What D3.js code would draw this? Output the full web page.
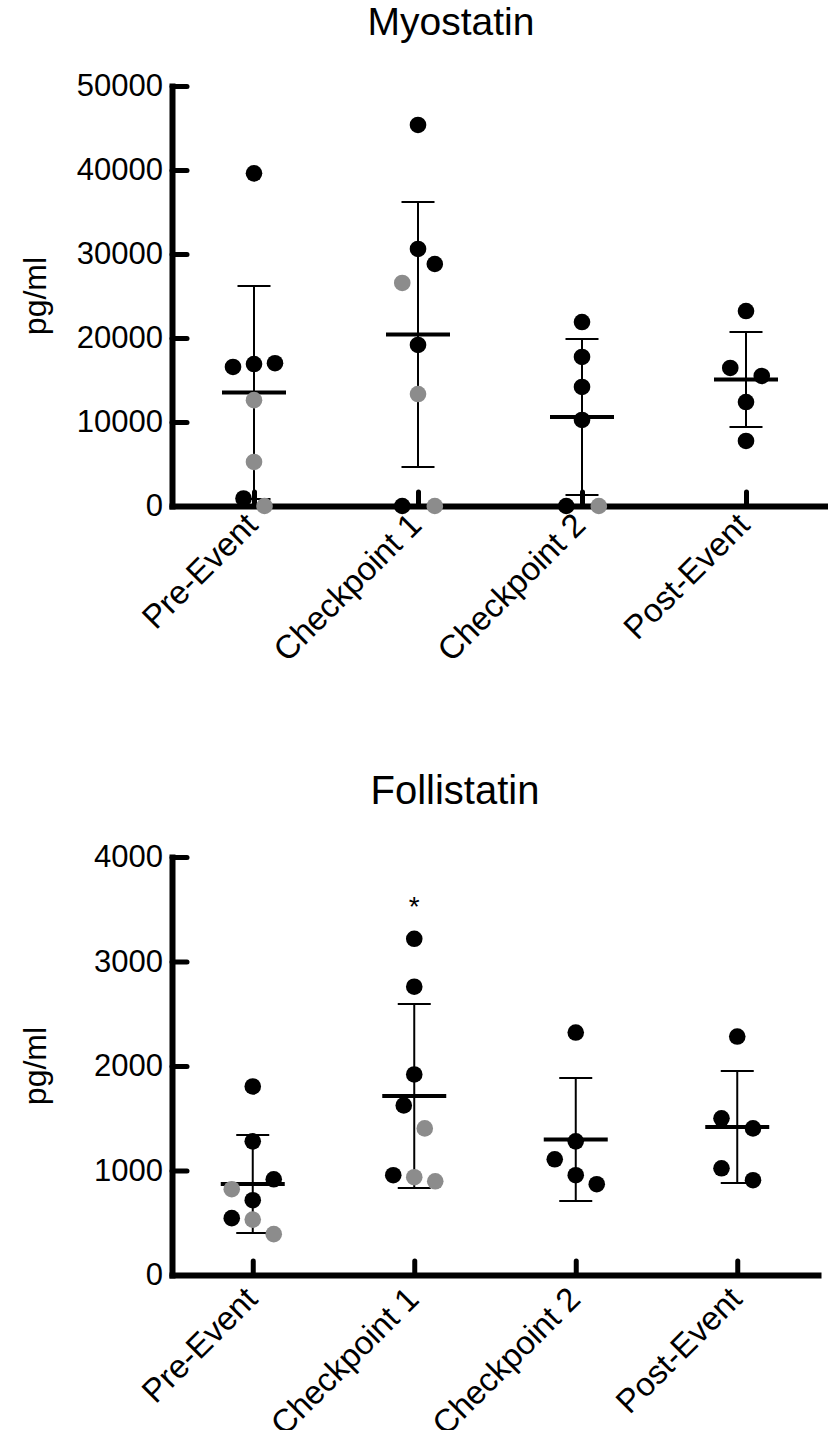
<!DOCTYPE html>
<html>
<head>
<meta charset="utf-8">
<script src="https://cdn.jsdelivr.net/npm/d3@7"></script>
<style>
  html, body { margin: 0; padding: 0; background: #fff; }
  svg { display: block; font-family: "Liberation Sans", Arial, Helvetica, sans-serif; }
</style>
</head>
<body>
<svg id="chart" width="828" height="1430"></svg>
<script>
// ---------- DATA ----------
const categories = ["Pre-Event", "Checkpoint 1", "Checkpoint 2", "Post-Event"];

// Myostatin (pg/ml): individual values per category, group colour code ("b" black, "g" grey)
const myoPre   = [39600, 16550, 16900, 17000, 12600, 5240, 900, 0];
const myoPreG  = ["b", "b", "b", "b", "g", "g", "b", "g"];
const myoCp1   = [45360, 30600, 28810, 26550, 19170, 13330, 0, 0];
const myoCp1G  = ["b", "b", "b", "g", "b", "g", "b", "g"];
const myoCp2   = [21900, 17740, 14170, 10240, 0, 0];
const myoCp2G  = ["b", "b", "b", "b", "b", "g"];
const myoPost  = [23210, 16430, 15480, 12380, 7740];
const myoPostG = ["b", "b", "b", "b", "b"];
const myoMean  = [13510, 20420, 10600, 15060];
const myoSD    = [12680, 15770, 9290, 5650];
const myoTicks = [0, 10000, 20000, 30000, 40000, 50000];

// Follistatin (pg/ml)
const folPre   = [1804, 1279, 916, 821, 716, 544, 530, 391];
const folPreG  = ["b", "b", "b", "g", "b", "b", "g", "g"];
const folCp1   = [3217, 2759, 1919, 1623, 1403, 955, 936, 897];
const folCp1G  = ["b", "b", "b", "b", "g", "b", "g", "g"];
const folCp2   = [2320, 1279, 1107, 955, 869];
const folCp2G  = ["b", "b", "b", "b", "b"];
const folPost  = [2282, 1499, 1403, 1021, 907];
const folPostG = ["b", "b", "b", "b", "b"];
const folMean  = [871, 1713, 1297, 1416];
const folSD    = [469, 880, 589, 536];
const folTicks = [0, 1000, 2000, 3000, 4000];
const folSignif = ["", "*", "", ""];

// Column-scatter spread (in dot-slot units) used to place overlapping points side by side
const myoSpread = [
  [0, -1, 0, 1, 0, 0, -0.5, 0.5],
  [0, 0, 0.8, -0.75, 0, 0, -0.75, 0.8],
  [0, 0, 0, 0, -0.75, 0.8],
  [0, -0.75, 0.75, 0, 0]
];
const folSpread = [
  [0, 0, 1, -1, 0, -1, 0, 1],
  [0, 0, 0, -0.5, 0.5, -1, 0, 1],
  [0, 0, -1, 0, 1],
  [0, -0.75, 0.75, -0.75, 0.75]
];

// ---------- DRAW ----------
const svg = d3.select("#chart");
const colours = { b: "#000000", g: "#8c8c8c" };

function panel(cfg) {
  const g = svg.append("g");
  const x = d3.scalePoint().domain(categories).range([172, cfg.xEnd]).padding(0.5);
  const y = d3.scaleLinear().domain([0, cfg.yMax]).range([cfg.y0, cfg.yTop]);
  const slot = d3.scaleLinear().domain([0, 1]).range([0, 21]);

  // title
  g.append("text")
    .attr("x", cfg.titleX).attr("y", cfg.titleY)
    .attr("text-anchor", "middle")
    .style("font-size", cfg.titleSize + "px")
    .text(cfg.title);

  // y label
  g.append("text")
    .attr("transform", `translate(46,${(cfg.y0 + cfg.yTop) / 2}) rotate(-90)`)
    .attr("text-anchor", "middle")
    .style("font-size", "32px")
    .text("pg/ml");

  // y axis
  const ya = g.append("g")
    .attr("transform", "translate(172,0)")
    .call(d3.axisLeft(y).tickValues(cfg.ticks).tickFormat(d3.format("d"))
      .tickSizeInner(-15).tickSizeOuter(0).tickPadding(9));
  ya.attr("font-family", null).attr("font-size", null);
  ya.select(".domain").attr("stroke", "#000").attr("stroke-width", 6).attr("stroke-linecap", "square");
  ya.selectAll(".tick line").attr("stroke", "#000").attr("stroke-width", 5).attr("stroke-linecap", "round");
  ya.selectAll(".tick text").style("font-size", "31px").attr("fill", "#000");

  // x axis
  const xa = g.append("g")
    .attr("transform", `translate(0,${cfg.y0})`)
    .call(d3.axisBottom(x).tickSizeInner(-14).tickSizeOuter(0));
  xa.attr("font-family", null).attr("font-size", null);
  xa.select(".domain").attr("stroke", "#000").attr("stroke-width", 6).attr("stroke-linecap", "square");
  xa.selectAll(".tick line").attr("stroke", "#000").attr("stroke-width", 5).attr("stroke-linecap", "round");
  xa.selectAll(".tick text")
    .attr("x", 0).attr("y", 0).attr("dy", 0)
    .attr("transform", `translate(${cfg.labDx},${cfg.labDy}) rotate(-45)`)
    .attr("text-anchor", "end")
    .attr("fill", "#000")
    .style("font-size", "33px");

  // error bars (mean ± SD)
  const stats = categories.map((c, i) => ({ c, m: cfg.mean[i], s: cfg.sd[i] }));
  const eb = g.append("g").attr("stroke", "#000");
  eb.selectAll("line.v").data(stats).join("line")
    .attr("x1", d => x(d.c)).attr("x2", d => x(d.c))
    .attr("y1", d => y(d.m + d.s)).attr("y2", d => y(d.m - d.s))
    .attr("stroke-width", 2);
  eb.selectAll("line.cu").data(stats).join("line")
    .attr("x1", d => x(d.c) - 16.5).attr("x2", d => x(d.c) + 16.5)
    .attr("y1", d => y(d.m + d.s)).attr("y2", d => y(d.m + d.s))
    .attr("stroke-width", 2);
  eb.selectAll("line.cl").data(stats).join("line")
    .attr("x1", d => x(d.c) - 16.5).attr("x2", d => x(d.c) + 16.5)
    .attr("y1", d => y(d.m - d.s)).attr("y2", d => y(d.m - d.s))
    .attr("stroke-width", 2);
  eb.selectAll("line.mean").data(stats).join("line")
    .attr("x1", d => x(d.c) - 32).attr("x2", d => x(d.c) + 32)
    .attr("y1", d => y(d.m)).attr("y2", d => y(d.m))
    .attr("stroke-width", 4);

  // points
  const pts = [];
  categories.forEach((c, i) => {
    cfg.values[i].forEach((v, j) => {
      pts.push({ c, v, grp: cfg.groups[i][j], off: cfg.spread[i][j] });
    });
  });
  g.append("g").selectAll("circle").data(pts).join("circle")
    .attr("cx", d => x(d.c) + slot(d.off))
    .attr("cy", d => y(d.v))
    .attr("r", 8.3)
    .attr("fill", d => colours[d.grp]);

  // significance markers
  if (cfg.signif) {
    g.append("g").selectAll("text").data(categories.map((c, i) => ({ c, t: cfg.signif[i], i })).filter(d => d.t))
      .join("text")
      .attr("x", d => x(d.c))
      .attr("y", d => y(d3.max(cfg.values[d.i])) - 23)
      .attr("text-anchor", "middle")
      .style("font-size", "28px")
      .text(d => d.t);
  }
}

panel({
  title: "Myostatin", titleX: 451, titleY: 35, titleSize: 39,
  yMax: 50000, y0: 506, yTop: 86, xEnd: 828, ticks: myoTicks,
  labDx: 5, labDy: 21,
  values: [myoPre, myoCp1, myoCp2, myoPost],
  groups: [myoPreG, myoCp1G, myoCp2G, myoPostG],
  spread: myoSpread, mean: myoMean, sd: myoSD
});

panel({
  title: "Follistatin", titleX: 455, titleY: 804, titleSize: 40,
  yMax: 4000, y0: 1275, yTop: 857, xEnd: 818, ticks: folTicks,
  labDx: 6, labDy: 26,
  values: [folPre, folCp1, folCp2, folPost],
  groups: [folPreG, folCp1G, folCp2G, folPostG],
  spread: folSpread, mean: folMean, sd: folSD, signif: folSignif
});
</script>
</body>
</html>
